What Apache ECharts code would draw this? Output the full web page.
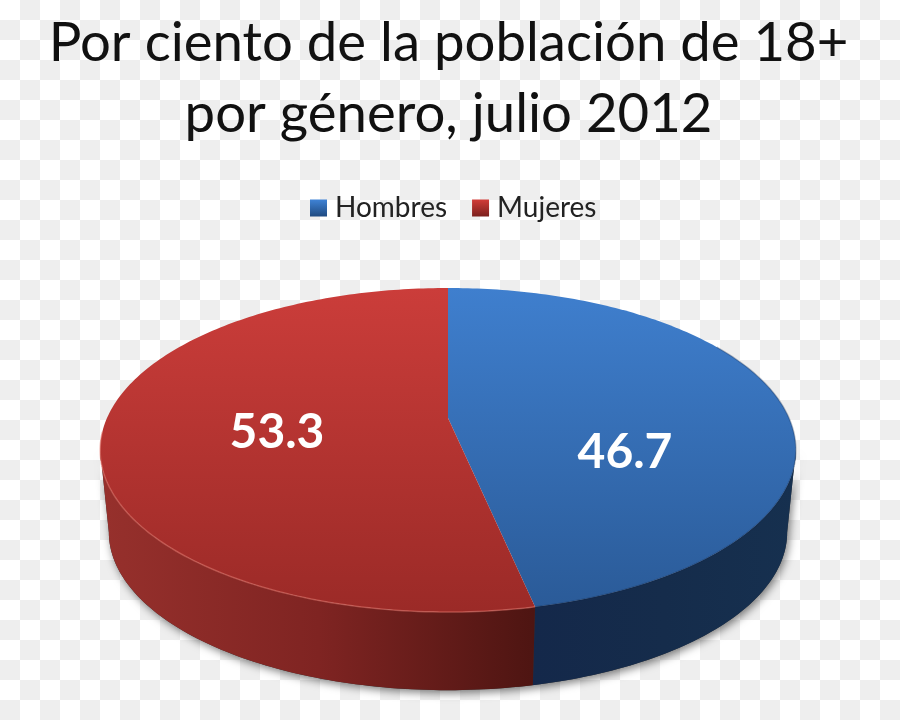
<!DOCTYPE html>
<html><head><meta charset="utf-8">
<style>
html,body{margin:0;padding:0;width:900px;height:720px;overflow:hidden;
background-color:#fff;
background-image:conic-gradient(#eeeeee 25%,#fff 25% 50%,#eeeeee 50% 75%,#fff 75%);
background-size:40px 40px;background-position:0 0;}
#c{width:900px;height:720px;}
</style>
<script src="https://cdn.jsdelivr.net/npm/echarts@6/dist/echarts.min.js"></script>
</head><body><div id="c"></div>
<script>
const titleText = 'Por ciento de la población de 18+\npor género, julio 2012';
const categories = ['Hombres', 'Mujeres'];
const values = [46.7, 53.3];
const valueLabels = ['46.7', '53.3'];

// projection of the tilted disc
const CX = 448, CY = 418, RX = 341, RY = 155.7, PERSP = 0.1975;
const DEPTH = 83, BASE_SCALE = 0.975;
const FONT = 'Lato, "Open Sans", sans-serif';
const total = values[0] + values[1];
const startOf = i => values.slice(0, i).reduce((a, b) => a + b, 0) / total * 360;
const endOf = i => startOf(i) + values[i] / total * 360;
// angle at which the projected rim is widest: the wall's outline leaves the rim there
const TANGENT = Math.acos(-PERSP) * 180 / Math.PI;
function pt(deg, r, base) {
  const t = deg * Math.PI / 180, s = Math.sin(t) * r, c = Math.cos(t) * r;
  const d = 1 + PERSP * c;
  const k = base ? BASE_SCALE : 1;
  return [CX + k * RX * s / d, CY + (base ? DEPTH : 0) + k * RY * (-c) / d];
}
function arc(a, b, base) {
  const n = Math.max(2, Math.ceil(Math.abs(b - a)));
  const out = [];
  for (let i = 0; i <= n; i++) out.push(pt(a + (b - a) * i / n, 1, base));
  return out;
}
const vgrad = (top, bot, y0, y1) => ({type: 'linear', global: true, x: 0, y: y0, x2: 0, y2: y1,
  colorStops: [{offset: 0, color: top}, {offset: 1, color: bot}]});
const hgrad = (stops, x0, x1) => ({type: 'linear', global: true, x: x0, y: 0, x2: x1, y2: 0,
  colorStops: stops.map((c, i) => ({offset: i / (stops.length - 1), color: c}))});
const topFill = [vgrad('#3f7fce', '#2a5a97', 288, 612), vgrad('#cb3d3a', '#9b2a27', 288, 612)];
const wallFill = [hgrad(['#14284a', '#152c4b', '#16304f'], 532, 796), hgrad(['#96302c', '#7f2422', '#4e1512'], 105, 533)];
const rimColor = ['rgba(18,38,70,0.3)', 'rgba(232,120,110,0.5)'];
const rimSpan = [[60, 168.1], [168.1, 265]];
const labelPos = [[625, 453], [277, 433]];
const legendFill = [vgrad('#3f83d6', '#1f4a80', 0, 1), vgrad('#d23c38', '#7a1f1c', 0, 1)];
legendFill.forEach(g => { g.global = false; });

function wallRange(i) {
  const a = Math.max(startOf(i), TANGENT), b = Math.min(endOf(i), 360 - TANGENT);
  return a < b ? [a, b] : null;
}
function wallPoly(a, b) { return arc(a, b, false).concat(arc(b, a, true)); }

function renderWall(params, api) {
  const i = params.dataIndex;
  api.value(0);
  const r = wallRange(i);
  const children = [];
  if (i === 0) {
    children.push({type: 'polygon', shape: {points: wallPoly(TANGENT, 360 - TANGENT)},
      style: {fill: '#333', shadowColor: 'rgba(0,0,0,0.5)', shadowBlur: 9, shadowOffsetX: 2, shadowOffsetY: 3}});
  }
  children.push({type: 'polygon', shape: {points: wallPoly(r[0], r[1])}, style: {fill: wallFill[i]}});
  return {type: 'group', children};
}
function renderTop(i) {
  return function (params, api) {
    const span = api.value(0) / total * 360;
    const a = startOf(i), b = a + span;
    const points = [[CX, CY]].concat(arc(a, b, false));
    return {type: 'group', children: [
      {type: 'polygon', shape: {points}, style: {fill: topFill[i]}},
      {type: 'polyline', shape: {points: arc(rimSpan[i][0], rimSpan[i][1], false)},
        style: {fill: 'none', stroke: rimColor[i], lineWidth: 1.5}},
      {type: 'text', style: {text: valueLabels[i], x: labelPos[i][0], y: labelPos[i][1],
        align: 'center', verticalAlign: 'middle', fill: '#fff',
        font: 'bold 48px ' + FONT, shadowColor: 'rgba(0,0,0,0.6)', shadowBlur: 4, shadowOffsetX: 2, shadowOffsetY: 2}}
    ]};
  };
}
const chart = echarts.init(document.getElementById('c'), null, {renderer: 'canvas'});
chart.setOption({
  backgroundColor: 'transparent',
  animation: false,
  title: {text: titleText, left: 443.5, top: 3, textAlign: 'center',
    textStyle: {fontFamily: FONT, fontSize: 54.5, fontWeight: 'normal', color: '#111', lineHeight: 71}},
  legend: {left: 310, top: 194, padding: 0, itemWidth: 17, itemHeight: 17, itemGap: 25, icon: 'rect',
    textStyle: {fontFamily: FONT, fontSize: 28, color: '#222', padding: [0, 0, 0, 3]},
    data: categories.map((name, i) => ({name, itemStyle: {color: legendFill[i]}}))},
  series: [
    {type: 'custom', name: 'lados', coordinateSystem: 'none', silent: true, z: 1,
      data: values.map(v => [v]), renderItem: renderWall},
    {type: 'custom', name: categories[0], coordinateSystem: 'none', silent: true, z: 2,
      itemStyle: {color: '#3f7fce'}, data: [[values[0]]], renderItem: renderTop(0)},
    {type: 'custom', name: categories[1], coordinateSystem: 'none', silent: true, z: 2,
      itemStyle: {color: '#cb3d3a'}, data: [[values[1]]], renderItem: renderTop(1)}
  ]
});
</script></body></html>
